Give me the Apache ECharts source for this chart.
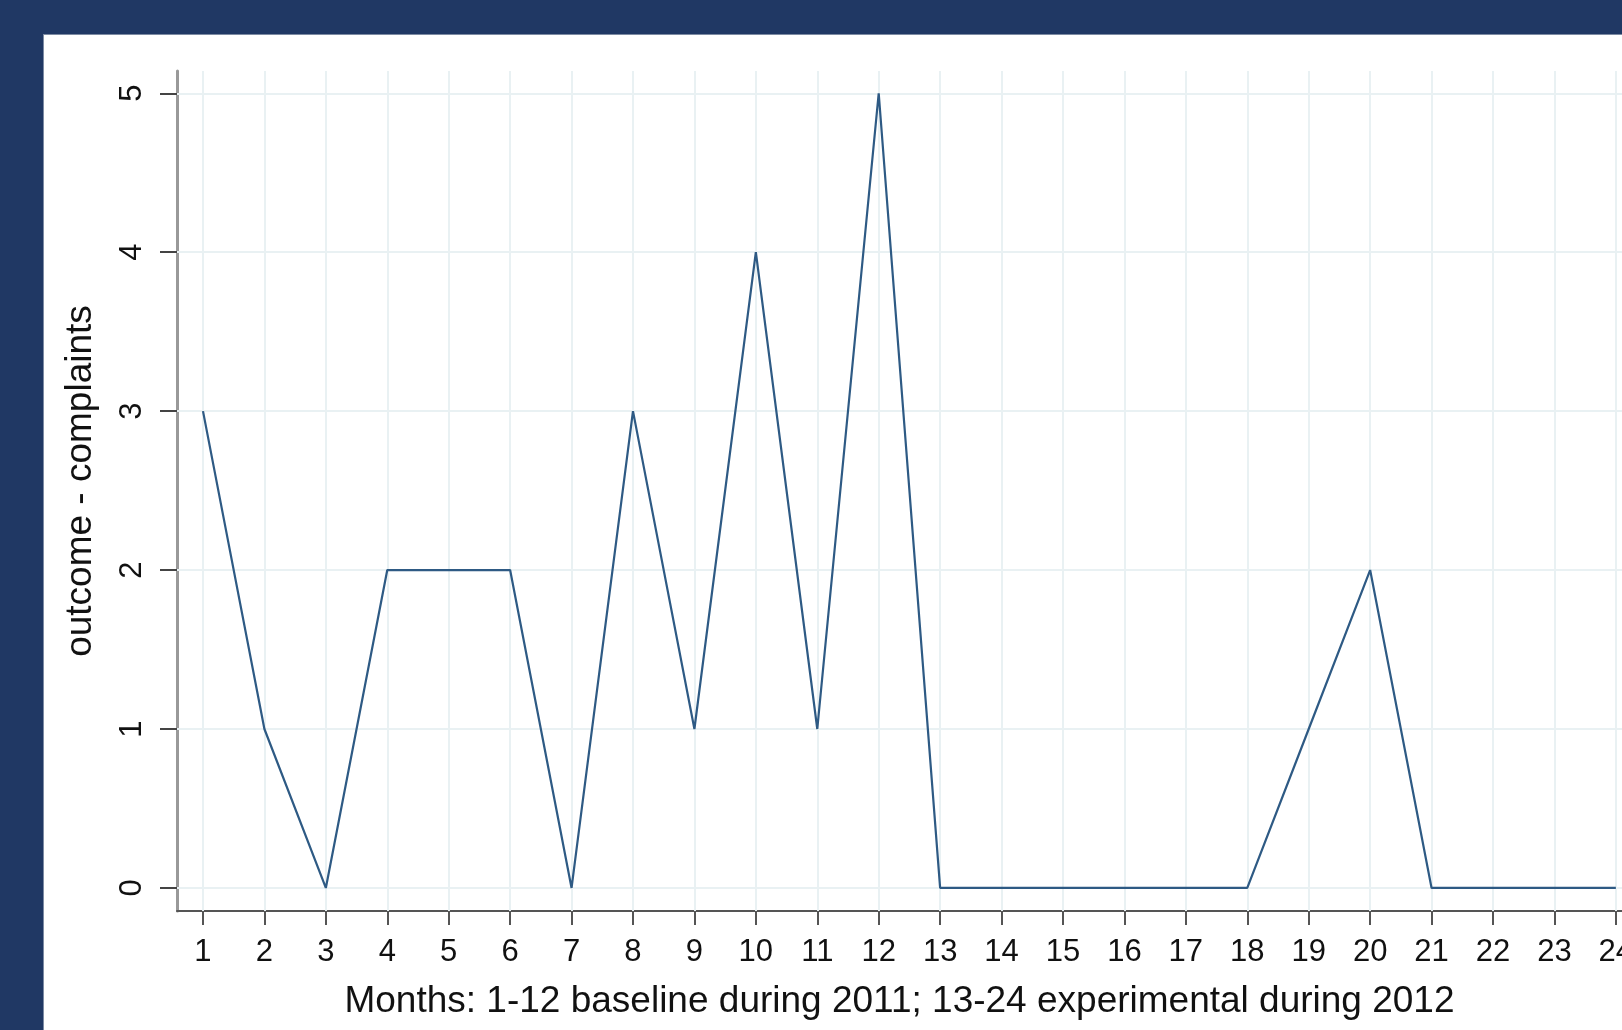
<!DOCTYPE html>
<html>
<head>
<meta charset="utf-8">
<title>complaints by month</title>
<script src="https://cdn.jsdelivr.net/npm/echarts@6/dist/echarts.min.js"></script>
<style>
  html, body { margin: 0; padding: 0; width: 1622px; height: 1030px; background: #203864; overflow: hidden; }
  #chart { position: absolute; left: 43px; top: 34px; width: 1579px; height: 996px; background: #fff; border-left: 1px solid #7d8ba3; border-top: 1px solid #7d8ba3; box-sizing: border-box; }
</style>
</head>
<body>
<div id="chart"></div>
<script>
// months 1-12 baseline (2011), 13-24 experimental (2012)
var months = [1, 2, 3, 4, 5, 6, 7, 8, 9, 10, 11, 12, 13, 14, 15, 16, 17, 18, 19, 20, 21, 22, 23, 24]
var complaints = [3, 1, 0, 2, 2, 2, 0, 3, 1, 4, 1, 5, 0, 0, 0, 0, 0, 0, 1, 2, 0, 0, 0, 0]
var yTicks = [0, 1, 2, 3, 4, 5]

var xTitle = 'Months: 1-12 baseline during 2011; 13-24 experimental during 2012'
var yTitle = 'outcome - complaints'

var font = 'Liberation Sans, Arial, sans-serif'
var gridColor = '#e9f1f3'

var chart = echarts.init(document.getElementById('chart'))
chart.setOption({
  animation: false,
  grid: { // 图区位置
    left: 133,
    top: 36,
    right: 0,
    bottom: 119,
    containLabel: false,
    outerBoundsMode: 'none' // 不让 v6 为了放下标签而收缩图区
  },
  xAxis: {
    type: 'value',
    min: 0.577,
    max: 24.1,
    name: xTitle,
    nameLocation: 'middle',
    nameGap: 72,
    nameTextStyle: { color: '#111', fontSize: 37, fontFamily: font },
    axisLine: { onZero: false, lineStyle: { color: '#555', width: 2 } },
    axisTick: { show: true, length: 14, customValues: months, lineStyle: { color: '#555', width: 2 } },
    axisLabel: { customValues: months, margin: 26, color: '#111', fontSize: 31, fontFamily: font },
    splitLine: { show: false }
  },
  yAxis: {
    type: 'value',
    min: -0.145,
    max: 5.14,
    name: yTitle,
    nameLocation: 'middle',
    nameGap: 78,
    nameTextStyle: { color: '#111', fontSize: 37, fontFamily: font, padding: [0, 0, 0, 20] },
    axisLine: { show: true, onZero: false, lineStyle: { color: '#999', width: 3 } },
    axisTick: { show: true, length: 17, customValues: yTicks, lineStyle: { color: '#444', width: 2 } },
    axisLabel: { customValues: yTicks, rotate: 90, margin: 29, color: '#111', fontSize: 31, fontFamily: font },
    splitLine: { show: false }
  },
  series: [
    {
      // 网格线，单独放一层在折线下面
      type: 'line',
      data: [],
      z: 1,
      silent: true,
      markLine: {
        silent: true,
        z: 1,
        symbol: 'none',
        label: { show: false },
        lineStyle: { color: gridColor, width: 2, type: 'solid' },
        data: months.map(function (m) { return { xAxis: m } })
          .concat(yTicks.map(function (v) { return { yAxis: v } }))
      }
    },
    {
      name: 'complaints',
      type: 'line',
      z: 10,
      symbol: 'none',
      data: months.map(function (m, i) { return [m, complaints[i]] }),
      lineStyle: { color: '#2e5a84', width: 2.2 }
    }
  ]
})
</script>
</body>
</html>
